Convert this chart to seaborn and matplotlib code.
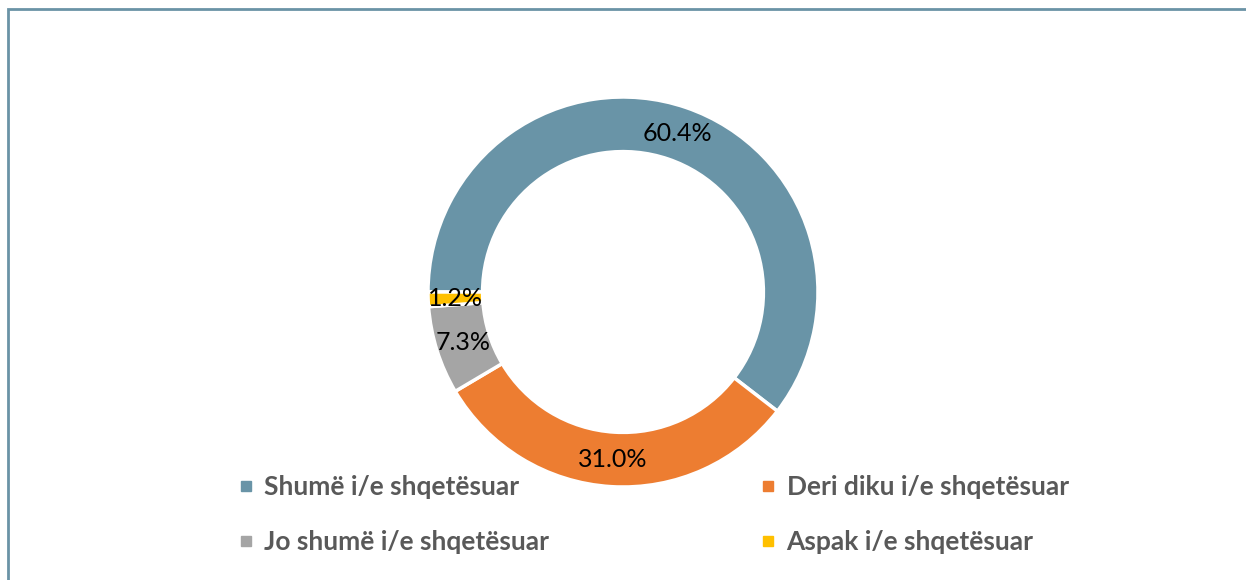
import matplotlib
matplotlib.use("Agg")
import matplotlib.pyplot as plt
from matplotlib.lines import Line2D
from matplotlib.patches import Rectangle
import seaborn as sns

categories = ["Shumë i/e shqetësuar", "Deri diku i/e shqetësuar",
              "Jo shumë i/e shqetësuar", "Aspak i/e shqetësuar"]
shares = [60.4, 31.0, 7.3, 1.2]
colors = ["#6994A7", "#ED7D31", "#A5A5A5", "#FFC000"]

sns.set_theme(style="white")
plt.rcParams['font.family'] = ['Lato', 'DejaVu Sans']

palette = sns.color_palette(colors)

fig = plt.figure(figsize=(12.46, 5.8), dpi=100)
fig.patch.set_facecolor("white")

# frame: only top and left edges are visible in the reference
fig.add_artist(Rectangle((8 / 1246, -0.1), 1.2, (580 - 9) / 580 + 0.1,
                         transform=fig.transFigure, fill=False,
                         edgecolor="#6A93A6", linewidth=2))

ax = fig.add_axes([(623 - 195) / 1246, (580 - 292 - 195) / 580,
                   390 / 1246, 390 / 580])
wedges, texts, autotexts = ax.pie(
    shares, colors=palette, startangle=180, counterclock=False,
    autopct="%.1f%%", pctdistance=0.86,
    wedgeprops=dict(width=0.28, edgecolor="white", linewidth=2.5),
    textprops=dict(fontsize=18, color="black"))
# show the values as printed in the source, not re-normalised
for t, s in zip(autotexts, shares):
    t.set_text(f"{s:.1f}%")
ax.set_xlim(-1, 1)
ax.set_ylim(-1, 1)
ax.set_aspect("equal")
ax.axis("off")

handles = [Line2D([0], [0], marker="s", linestyle="", markersize=7,
                  markerfacecolor=c, markeredgecolor=c) for c in palette]
# legend is filled row by row in the reference
order = [0, 2, 1, 3]
leg = fig.legend([handles[i] for i in order], [categories[i] for i in order],
                 ncol=2, loc="upper left",
                 bbox_to_anchor=(214 / 1246, (580 - 451) / 580),
                 frameon=False, handlelength=0.6, handletextpad=0.4,
                 columnspacing=8.0, labelspacing=1.2,
                 prop=dict(size=19, weight="bold"))
for t in leg.get_texts():
    t.set_color("#595959")

fig.savefig("out.png", dpi=100, facecolor="white")
